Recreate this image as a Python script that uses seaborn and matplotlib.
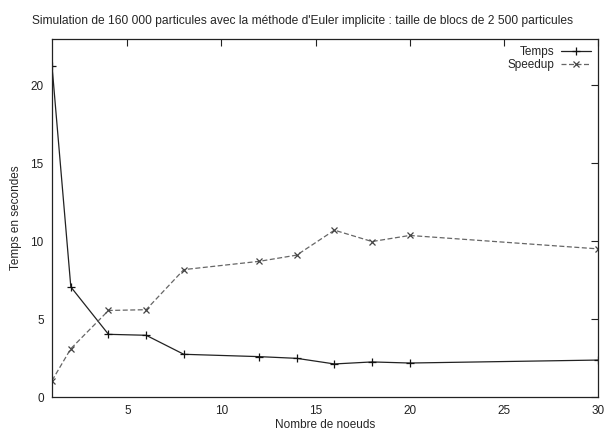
import pandas as pd
import matplotlib
matplotlib.use("Agg")
import matplotlib.pyplot as plt
import seaborn as sns

# valeurs
noeuds = [1, 2, 4, 6, 8, 12, 14, 16, 18, 20, 30]
temps = [21.25, 7.06, 4.02, 3.96, 2.74, 2.59, 2.48, 2.12, 2.25, 2.18, 2.37]
speedup = [1.05, 3.1, 5.55, 5.6, 8.17, 8.7, 9.1, 10.7, 9.97, 10.36, 9.5]

sns.set_style("white")
plt.rcParams['font.family'] = ['Liberation Sans', 'DejaVu Sans']

df = pd.DataFrame({"noeuds": noeuds, "Temps": temps, "Speedup": speedup})

fig = plt.figure(figsize=(6.06, 4.3), dpi=100)
ax = fig.add_axes([0.0858, 0.0767, 0.901, 0.8323])

sns.lineplot(data=df, x="noeuds", y="Temps", ax=ax, color="#222222", lw=0.9,
             marker="+", markersize=6, markeredgewidth=0.9,
             markeredgecolor="#111111", label="Temps")
sns.lineplot(data=df, x="noeuds", y="Speedup", ax=ax, color="#666666", lw=0.9,
             linestyle=(0, (4, 2)), marker="x", markersize=5, markeredgewidth=0.9,
             markeredgecolor="#444444", label="Speedup")

ax.set_xlim(1, 30)
ax.set_ylim(0, 22.95)
ax.set_xticks([5, 10, 15, 20, 25, 30])
ax.set_yticks([0, 5, 10, 15, 20])
ax.tick_params(direction="in", length=5, width=0.8, labelsize=8.5, colors="#222222",
               top=True, right=True, pad=6)
for s in ax.spines.values():
    s.set_color("#222222")
    s.set_linewidth(0.9)

ax.set_xlabel("Nombre de noeuds", fontsize=8.5, labelpad=1)
ax.set_ylabel("Temps en secondes", fontsize=8.5, labelpad=6)
fig.suptitle("Simulation de 160 000 particules avec la méthode d'Euler implicite : "
             "taille de blocs de 2 500 particules", fontsize=8.65, y=0.965)

leg = ax.legend(loc="upper right", markerfirst=False, frameon=False, fontsize=8.5,
                handlelength=2.5, borderaxespad=0.2, labelspacing=0.1,
                handletextpad=0.6)

fig.savefig("out.png", dpi=100)
